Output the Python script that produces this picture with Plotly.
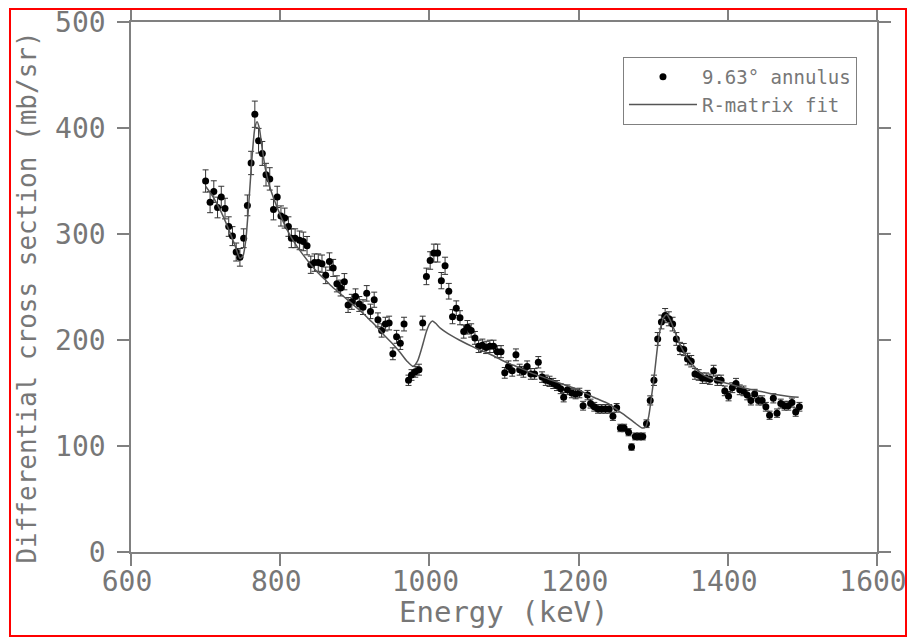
import plotly.graph_objects as go

# ---- data ----
energy = [700, 706, 711, 716, 721, 726, 731, 736, 741, 746,
          751, 756, 761, 766, 771, 776, 781, 786, 791, 796,
          801, 806, 811, 815, 820, 826, 831, 836, 841, 846,
          851, 856, 861, 866, 871, 876, 881, 886, 891, 896,
          901, 906, 911, 916, 921, 926, 931, 936, 941, 946,
          951, 956, 961, 966, 972, 976, 981, 986, 991, 996,
          1001, 1006, 1011, 1016, 1021, 1026, 1031, 1036, 1041, 1046,
          1051, 1056, 1061, 1066, 1071, 1076, 1081, 1086, 1091, 1096,
          1101, 1106, 1111, 1116, 1121, 1126, 1131, 1136, 1141, 1146,
          1151, 1156, 1161, 1166, 1171, 1176, 1180, 1185, 1191, 1196,
          1201, 1206, 1212, 1216, 1221, 1226, 1231, 1236, 1241, 1246,
          1251, 1256, 1261, 1267, 1271, 1276, 1281, 1286, 1291, 1296,
          1301, 1306, 1311, 1316, 1321, 1326, 1331, 1336, 1341, 1346,
          1351, 1356, 1361, 1366, 1371, 1376, 1381, 1386, 1391, 1396,
          1401, 1406, 1411, 1416, 1421, 1426, 1431, 1436, 1441, 1446,
          1451, 1456, 1461, 1466, 1471, 1476, 1481, 1486, 1491, 1496]
xsec = [350, 330, 340, 325, 335, 324, 307, 298, 283, 278,
        296, 327, 367, 413, 388, 376, 356, 352, 323, 335,
        317, 315, 307, 296, 296, 294, 293, 289, 271, 273,
        273, 272, 261, 274, 268, 253, 249, 255, 233, 236,
        241, 234, 231, 244, 227, 238, 219, 209, 215, 216,
        187, 203, 197, 215, 162, 167, 170, 172, 216, 260,
        275, 282, 282, 256, 270, 246, 222, 230, 221, 208,
        212, 209, 202, 194, 195, 193, 194, 194, 189, 189,
        169, 175, 171, 186, 172, 170, 175, 168, 168, 179,
        165, 162, 161, 159, 157, 154, 146, 153, 150, 149,
        150, 138, 148, 140, 137, 135, 135, 135, 135, 128,
        136, 117, 117, 113, 99, 109, 109, 109, 121, 143,
        162, 201, 217, 223, 220, 215, 201, 192, 191, 182,
        180, 168, 167, 164, 164, 163, 171, 162, 162, 152,
        147, 155, 159, 153, 152, 148, 143, 149, 143, 143,
        137, 129, 145, 131, 140, 138, 138, 141, 132, 137]

fit_energy = [700, 710, 720, 730, 740, 746, 750, 754, 758, 762,
              766, 769, 772, 775, 780, 785, 790, 800, 810, 820,
              830, 840, 850, 860, 870, 880, 890, 900, 910, 920,
              930, 940, 950, 960, 970, 978, 984, 990, 996, 1000,
              1004, 1008, 1015, 1025, 1040, 1060, 1080, 1100, 1120, 1140,
              1160, 1180, 1200, 1220, 1240, 1250, 1260, 1275, 1285, 1290,
              1294, 1298, 1302, 1306, 1310, 1314, 1318, 1322, 1328, 1335,
              1345, 1355, 1365, 1380, 1400, 1420, 1440, 1460, 1480, 1495]
fit_xsec = [345, 335, 322, 306, 288, 277, 279, 295, 330, 370,
            400, 406, 400, 385, 362, 347, 336, 318, 303, 291,
            281, 272, 264, 257, 250, 244, 238, 232, 226, 219,
            212, 204, 197, 189, 180, 175, 180, 193, 208, 215,
            218, 216, 211, 206, 200, 193, 187, 180, 174, 168,
            163, 158, 153, 146, 140, 135, 130, 122, 117, 118,
            128, 148, 170, 195, 212, 221, 224, 220, 210, 197,
            184, 175, 168, 163, 159, 155, 152, 149, 147, 146]

x_ticks = [600, 800, 1000, 1200, 1400, 1600]
y_ticks = [0, 100, 200, 300, 400, 500]

FONT = "DejaVu Sans Mono"
TXT = "#777777"
AX = "#808080"

fig = go.Figure()
fig.add_trace(go.Scatter(
    x=energy, y=xsec, mode="markers", name="9.63° annulus",
    marker=dict(color="black", size=7),
    error_y=dict(type="percent", value=3, color="#333333", thickness=1, width=3),
))
fig.add_trace(go.Scatter(
    x=fit_energy, y=fit_xsec, mode="lines", name="R-matrix fit",
    line=dict(color="#555555", width=1.5, shape="spline", smoothing=0.6),
))

fig.update_layout(
    width=907, height=637,
    margin=dict(l=131, r=30, t=22, b=85, autoexpand=False),
    plot_bgcolor="white", paper_bgcolor="white",
    showlegend=True,
    legend=dict(x=0.6595, y=0.934, xanchor="left", yanchor="top",
                bordercolor=AX, borderwidth=1, bgcolor="white",
                font=dict(family=FONT, size=19, color=TXT), itemwidth=68),
    annotations=[
        dict(text="Energy (keV)", xref="paper", yref="paper", x=0.5, y=-0.113,
             xanchor="center", yanchor="middle", showarrow=False,
             font=dict(family=FONT, size=29, color=TXT)),
        dict(text="Differential cross section (mb/sr)", xref="paper", yref="paper",
             x=-0.1394, y=0.48, xanchor="center", yanchor="middle", textangle=-90,
             showarrow=False, font=dict(family=FONT, size=26, color=TXT)),
    ],
    shapes=[dict(type="rect", xref="paper", yref="paper",
                 x0=-0.1622, x1=1.0389, y0=-0.1585, y1=1.0245,
                 line=dict(color="#ff0000", width=2))],
)
axis_common = dict(ticks="outside", ticklen=12, tickcolor=AX, tickwidth=1.5,
                   showline=True, linecolor=AX, linewidth=1.5, mirror="ticks",
                   showgrid=False, zeroline=False, automargin=False,
                   ticklabeloverflow="allow",
                   tickfont=dict(family=FONT, size=28, color=TXT))
fig.update_xaxes(range=[600, 1600], tickvals=x_ticks, ticklabelstandoff=-8,
                 ticklabelshift=-4,
                 ticktext=[str(v) for v in x_ticks], **axis_common)
fig.update_yaxes(range=[0, 500], tickvals=y_ticks,
                 ticktext=[str(v) for v in y_ticks], ticklabelstandoff=6, **axis_common)

fig.write_html("out.html", config={"displayModeBar": False},
               post_script="document.body.style.margin='0px';document.body.style.overflow='hidden';")
